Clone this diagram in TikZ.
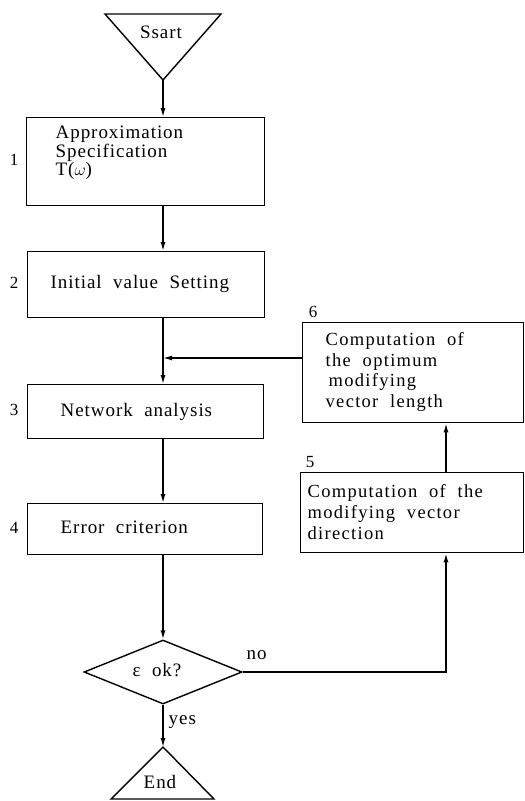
\documentclass[tikz,border=0pt]{standalone}
\usepackage{fontspec}
\setmainfont{Liberation Serif}[LetterSpace=5, WordSpace=2]
\usetikzlibrary{shapes.geometric,arrows.meta}

\begin{document}
\begin{tikzpicture}[x=1pt, y=-1pt, line width=1.4pt,
  box/.style={draw, rectangle, inner sep=0pt, anchor=north west},
  txt/.style={font=\fontsize{19}{18.4}\selectfont, inner sep=0pt, align=left, anchor=west},
  rtxt/.style={font=\fontsize{18.5}{20.6}\selectfont\addfontfeature{LetterSpace=7},
    inner sep=0pt, align=left, anchor=west},
  num/.style={font=\fontsize{17}{17}\selectfont, inner sep=0pt},
  arr/.style={-{Latex[length=9pt, width=5pt]}}]

\useasboundingbox (0,0) rectangle (525,801);

% terminals
\coordinate (sapex) at (163,80);
\draw (105,14) -- (221,14) -- (sapex) -- cycle;
\node[txt, anchor=center] (start) at (161,32) {Ssart};

\coordinate (eapex) at (163,747);
\draw (eapex) -- (214,799) -- (111,799) -- cycle;
\node[txt, anchor=center] (end) at (160,782) {End};

% process boxes of the main column
\node[box, minimum width=238pt, minimum height=88pt] (b1) at (26,117) {};
\node[box, minimum width=237pt, minimum height=66pt] (b2) at (27,251) {};
\node[box, minimum width=236pt, minimum height=54pt] (b3) at (27,384) {};
\node[box, minimum width=235pt, minimum height=51pt] (b4) at (27,503) {};

\node[txt] (t1) at (55,153) {Approximation\\Specification\\T($\omega$)};
\node[txt] (t2) at (50,284) {Initial value Setting};
\node[txt] (t3) at (60,412) {Network analysis};
\node[txt] (t4) at (60,527) {Error criterion};

\node[num] (n1) at (14,160) {1};
\node[num] (n2) at (14,283) {2};
\node[num] (n3) at (14,410) {3};
\node[num] (n4) at (14,528) {4};

% correction loop boxes
\node[box, minimum width=221pt, minimum height=100pt] (b6) at (302,322) {};
\node[box, minimum width=223pt, minimum height=80pt] (b5) at (300,472) {};

\node[rtxt] (t6) at (325,372) {Computation of\\the optimum\\\hspace{3pt}modifying\\vector length};
\node[rtxt] (t5) at (307,512) {Computation of the\\modifying vector\\direction};

\node[num] (n6) at (313,312) {6};
\node[num] (n5) at (310,462) {5};

% decision
\node[draw, diamond, minimum width=158pt, minimum height=64pt, inner sep=0pt] (dec) at (163,672) {};
\node[txt, anchor=center] (q) at (157,670) {ε ok?};
\node[txt] (yes) at (168,722) {yes};
\node[txt] (no) at (246,655) {no};

% connectors
\coordinate (join) at (163,358);
\coordinate (turn) at (446,672);
\draw[arr] (sapex) -- (sapex |- b1.north);
\draw[arr] (b1.south -| join) -- (b2.north -| join);
\draw (b2.south -| join) -- (join);
\draw[arr] (b6.north west |- join) -- (join);
\draw[arr] (join) -- (join |- b3.north);
\draw[arr] (b3.south -| join) -- (b4.north -| join);
\draw[arr] (b4.south -| join) -- (dec.north);
\draw[arr] (dec.south) -- (eapex);
\draw[arr] (dec.east) -- (turn) -- (turn |- b5.south);
\draw[arr] (b5.north -| turn) -- (b6.south -| turn);
\end{tikzpicture}
\end{document}
